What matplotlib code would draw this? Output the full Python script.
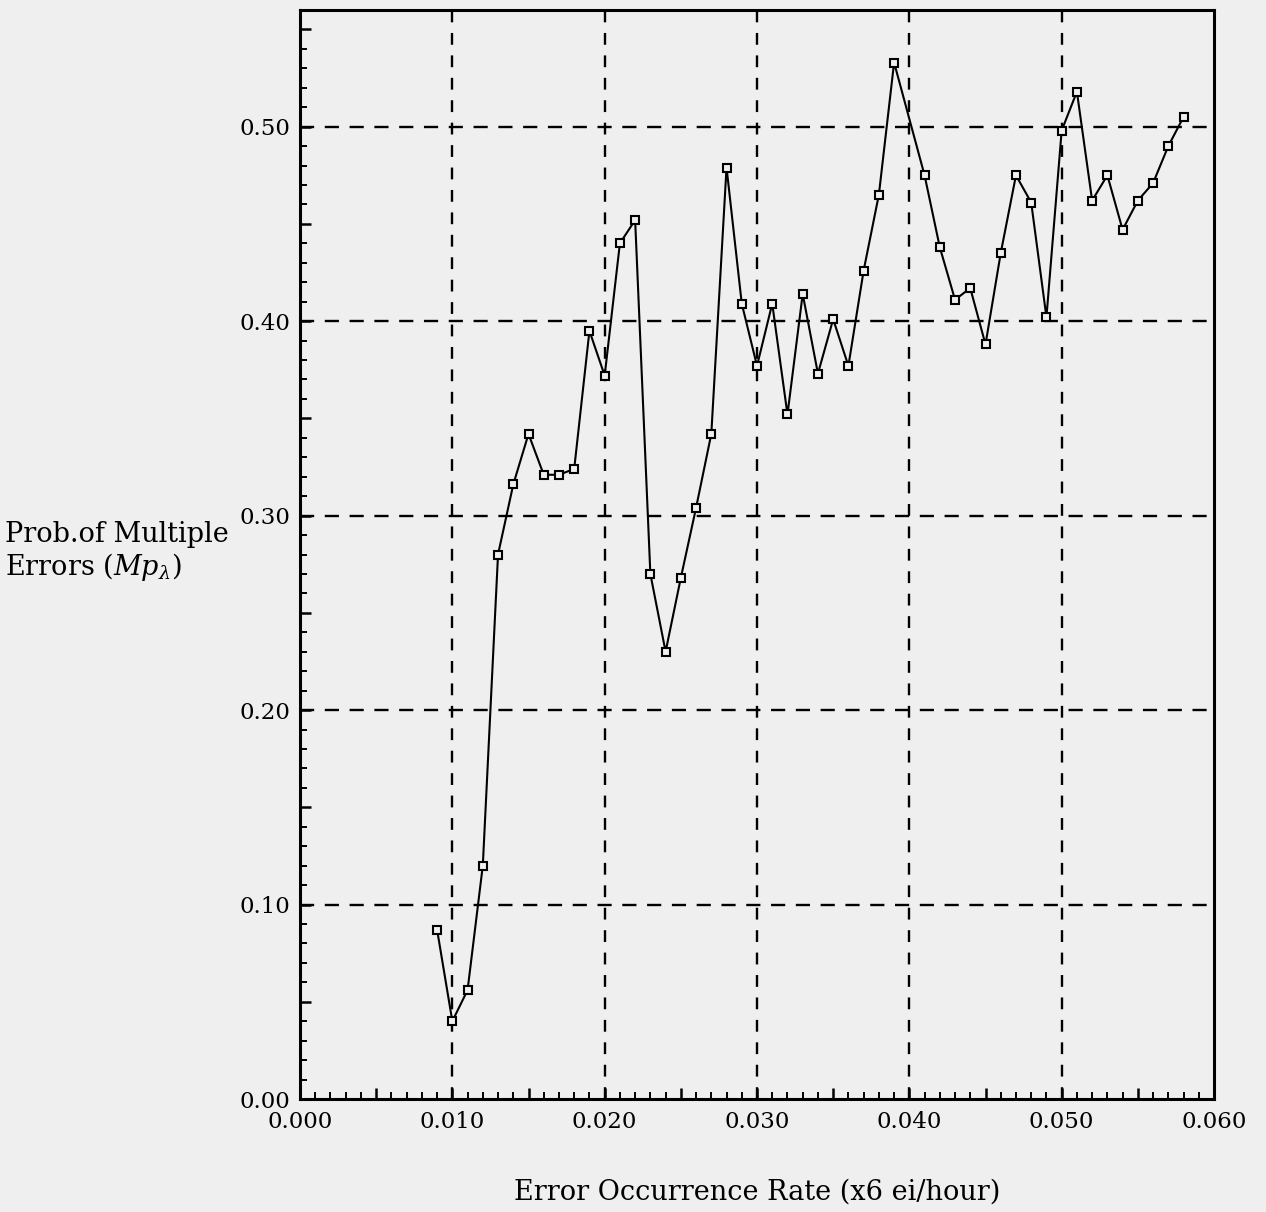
import matplotlib
matplotlib.use("Agg")
import matplotlib.pyplot as plt
from matplotlib.ticker import MultipleLocator, FuncFormatter

# Data (0.040 has no point)
rate = [0.009, 0.010, 0.011, 0.012, 0.013, 0.014, 0.015, 0.016, 0.017, 0.018,
        0.019, 0.020, 0.021, 0.022, 0.023, 0.024, 0.025, 0.026, 0.027, 0.028,
        0.029, 0.030, 0.031, 0.032, 0.033, 0.034, 0.035, 0.036, 0.037, 0.038,
        0.039, 0.041, 0.042, 0.043, 0.044, 0.045, 0.046, 0.047, 0.048, 0.049,
        0.050, 0.051, 0.052, 0.053, 0.054, 0.055, 0.056, 0.057, 0.058]
prob = [0.087, 0.040, 0.056, 0.120, 0.280, 0.316, 0.342, 0.321, 0.321, 0.324,
        0.395, 0.372, 0.440, 0.452, 0.270, 0.230, 0.268, 0.304, 0.342, 0.479,
        0.409, 0.377, 0.409, 0.352, 0.414, 0.373, 0.401, 0.377, 0.426, 0.465,
        0.533, 0.475, 0.438, 0.411, 0.417, 0.388, 0.435, 0.475, 0.461, 0.402,
        0.498, 0.518, 0.462, 0.475, 0.447, 0.462, 0.471, 0.490, 0.505]

x_grid = [0.01, 0.02, 0.03, 0.04, 0.05]
y_grid = [0.1, 0.2, 0.3, 0.4, 0.5]

xlabel = "Error Occurrence Rate (x6 ei/hour)"
ylabel = "Prob.of Multiple\nErrors ($Mp_{\\lambda}$)"

plt.rcParams['font.family'] = ['DejaVu Serif']
plt.rcParams['mathtext.fontset'] = 'dejavuserif'

bg = '#efefef'
fig = plt.figure(figsize=(12.66, 12.12), dpi=100, facecolor=bg)
ax = fig.add_axes([300/1266, 113/1212, 914/1266, (1099-10)/1212])
ax.set_facecolor(bg)

ax.set_xlim(0, 0.06)
ax.set_ylim(0, 0.56)

for xv in x_grid:
    ax.axvline(xv, color='black', lw=1.7, ls=(0, (5, 4.5)), zorder=1)
for yv in y_grid:
    ax.axhline(yv, color='black', lw=1.7, ls=(0, (6, 4.5)), zorder=1)

ax.plot(rate, prob, color='black', lw=1.5, marker='s', markersize=6,
        markerfacecolor=bg, markeredgecolor='black', markeredgewidth=1.5, zorder=3)

ax.xaxis.set_major_locator(MultipleLocator(0.005))
ax.xaxis.set_minor_locator(MultipleLocator(0.001))
ax.yaxis.set_major_locator(MultipleLocator(0.05))
ax.yaxis.set_minor_locator(MultipleLocator(0.01))

def xfmt(v, pos):
    k = round(v / 0.005)
    return f"{v:.3f}" if k % 2 == 0 else ""

def yfmt(v, pos):
    k = round(v / 0.05)
    return f"{v:.2f}" if k % 2 == 0 else ""

ax.xaxis.set_major_formatter(FuncFormatter(xfmt))
ax.yaxis.set_major_formatter(FuncFormatter(yfmt))

ax.tick_params(which='major', direction='in', length=8, width=1.8, labelsize=16.5)
ax.tick_params(axis='x', which='major', pad=9)
ax.tick_params(axis='y', which='major', pad=7)
ax.tick_params(which='minor', direction='in', length=5, width=1.4)
ax.tick_params(axis='x', which='both', top=False)
ax.tick_params(axis='y', which='both', right=False)

for s in ax.spines.values():
    s.set_linewidth(2.2)

fig.text(757/1266, 1 - 1192/1212, xlabel, ha='center', va='center', fontsize=19.5)
fig.text(5/1266, 1 - 552/1212, ylabel, ha='left', va='center', fontsize=19.5,
         linespacing=1.1)

fig.savefig("out.png", dpi=100, facecolor=bg)
